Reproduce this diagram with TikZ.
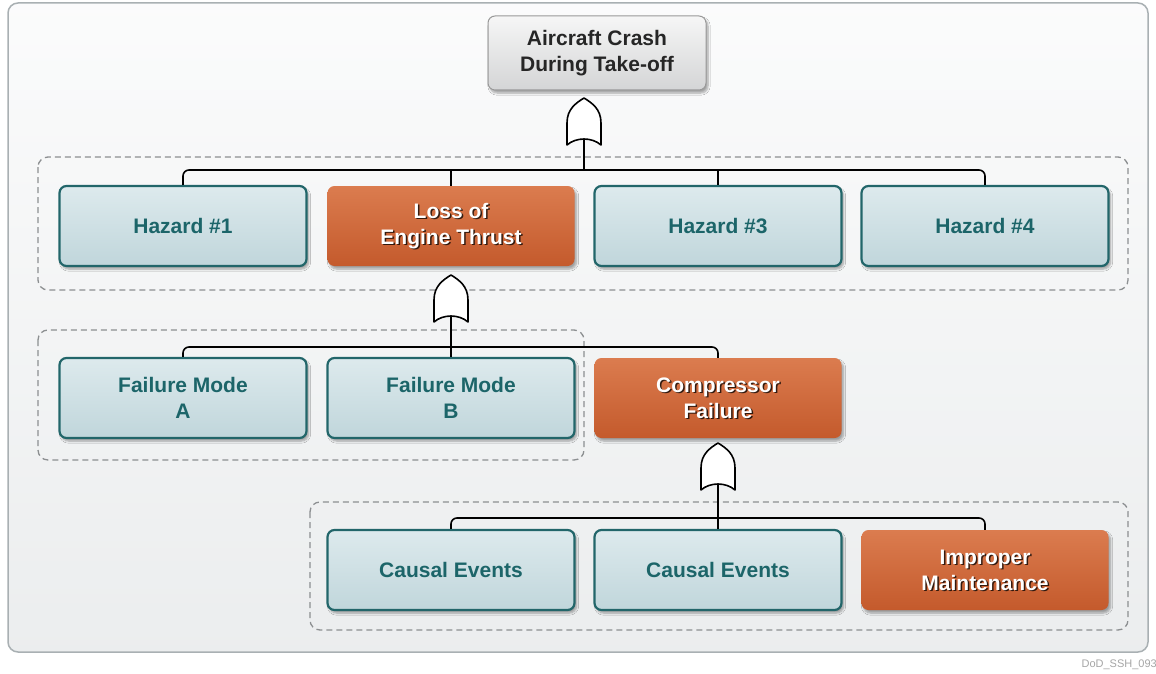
\documentclass[tikz,border=0pt]{standalone}
\usepackage{fontspec}
\setmainfont{Liberation Sans}
\usetikzlibrary{shadows.blur}
\definecolor{tealT}{HTML}{DDEAED}
\definecolor{tealB}{HTML}{C0D6DB}
\definecolor{tealline}{HTML}{22666A}
\definecolor{tealtext}{HTML}{1C6569}
\definecolor{orT}{HTML}{DB7C4F}
\definecolor{orB}{HTML}{C45A2C}
\definecolor{grayT}{HTML}{F6F6F6}
\definecolor{grayB}{HTML}{D4D5D6}
\definecolor{framefill}{HTML}{F1F3F4}
\definecolor{frameline}{HTML}{A9B0B3}
\definecolor{dashcol}{HTML}{8C8F91}
\tikzset{
  box/.style={rounded corners=7pt, minimum width=247pt, minimum height=80pt,
    inner sep=0pt, align=center, font=\fontsize{21}{26}\selectfont\bfseries},
  shadowed/.style={blur shadow={shadow xshift=2pt, shadow yshift=-3pt,
    shadow blur steps=6, shadow opacity=35}},
  tbox/.style={box, shadowed, draw=tealline, line width=2.2pt,
    top color=tealT, bottom color=tealB, text=tealtext},
  obox/.style={box, shadowed, draw=none, top color=orT, bottom color=orB},
  otext/.style={align=center, inner sep=0pt, text=white,
    font=\fontsize{21}{26}\selectfont\bfseries},
  oshade/.style={otext, text=black, text opacity=0.75},
  topbox/.style={box, shadowed, minimum width=218pt, minimum height=74pt,
    draw=gray!80, line width=1pt, top color=grayT, bottom color=grayB,
    text=black!85},
  group/.style={draw=dashcol, line width=1.3pt, dash pattern=on 6pt off 4pt,
    rounded corners=10pt},
  conn/.style={draw=black, line width=1.6pt, rounded corners=6pt},
  gateline/.style={draw=black, line width=1.6pt, fill=white, line join=round},
  orgate/.pic={
    \path[gateline] (-17,0) -- (-17,-22)
      .. controls (-17,-36) and (-8,-42) .. (0,-47)
      .. controls (8,-42) and (17,-36) .. (17,-22)
      -- (17,0)
      .. controls (8,-8) and (-8,-8) .. cycle;
    \coordinate (-out) at (0,-6);
  }
}
\newcommand{\orangenode}[3]{%
  \node[obox] (#1) at (#2) {};
  \node[oshade] at ([shift={(1.5pt,-1.5pt)}]#1.center) {#3};
  \node[otext] at (#1.center) {#3};}
\begin{document}
\begin{tikzpicture}[x=1pt,y=-1pt]
\useasboundingbox (0,0) rectangle (1156,674);
\fill[white] (0,0) rectangle (1156,674);
\draw[rounded corners=10pt, draw=frameline, line width=1.5pt,
  top color=white!70!framefill, bottom color=framefill!95!gray] (8,3) rectangle (1148,652);

% dashed groups
\draw[group] (38,157) rectangle (1128,290);
\draw[group] (38,330) rectangle (584,460);
\draw[group] (310,502) rectangle (1128,630);

% top event
\node[topbox] (top) at (597,53) {Aircraft Crash\\During Take-off};

% row 1
\node[tbox] (h1) at (183,226) {Hazard \#1};
\orangenode{loet}{451,226}{Loss of\\Engine Thrust}
\node[tbox] (h3) at (718,226) {Hazard \#3};
\node[tbox] (h4) at (985,226) {Hazard \#4};

% row 2
\node[tbox] (fma) at (183,398) {Failure Mode\\A};
\node[tbox] (fmb) at (451,398) {Failure Mode\\B};
\orangenode{cf}{718,398}{Compressor\\Failure}

% row 3
\node[tbox] (ce1) at (451,570) {Causal Events};
\node[tbox] (ce2) at (718,570) {Causal Events};
\orangenode{im}{985,570}{Improper\\Maintenance}

% buses
\coordinate (bus1) at (0,170);
\coordinate (bus2) at (0,347);
\coordinate (bus3) at (0,518);

\draw[conn] (h1.north) -- (h1.north |- bus1) -| (h4.north);
\draw[conn] (loet.north) -- (loet.north |- bus1);
\draw[conn] (h3.north) -- (h3.north |- bus1);

\draw[conn] (fma.north) -- (fma.north |- bus2) -| (cf.north);
\draw[conn] (fmb.north) -- (fmb.north |- bus2);

\draw[conn] (ce1.north) -- (ce1.north |- bus3) -| (im.north);
\draw[conn] (ce2.north) -- (ce2.north |- bus3);

% gates
\pic (g1) at (584,145) {orgate};
\pic (g2) at (451,322) {orgate};
\pic (g3) at (718,490) {orgate};
\draw[conn] (g1-out) -- (g1-out |- bus1);
\draw[conn] (g2-out) -- (g2-out |- bus2);
\draw[conn] (g3-out) -- (g3-out |- bus3);

% footnote
\node[anchor=east, inner sep=0pt, text=gray!70, font=\fontsize{11}{12}\selectfont] (foot) at (1157,665) {DoD\_SSH\_093};
\end{tikzpicture}
\end{document}
